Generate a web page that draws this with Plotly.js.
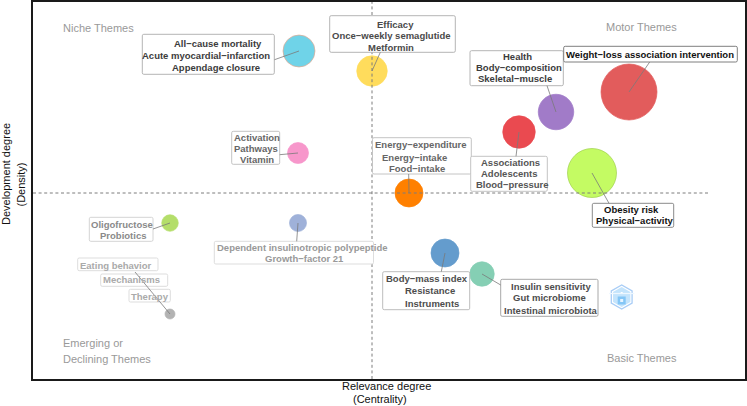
<!DOCTYPE html>
<html><head><meta charset="utf-8">
<script src="https://cdn.plot.ly/plotly-3.0.1.min.js"></script>
<style>html,body{margin:0;padding:0;background:#fff}#c{width:747px;height:406px}</style>
</head><body><div id="c"></div>
<script>
// ---- Theme data (centrality, density, bubble diameter, colour, label lines) ----
const themeNames = ['mortality','efficacy','activation','energy','associations','health','weightLoss','obesity','oligofructose','dependent','eating','bodyMass','insulin'];
const centrality = [-0.73, 0.00, -0.74, 0.37, 1.47, 1.84, 2.57, 2.20, -2.02, -0.74, -2.02, 0.73, 1.10];
const density    = [1.42, 1.22, 0.40, 0.00, 0.61, 0.81, 1.01, 0.20, -0.30, -0.30, -1.21, -0.60, -0.81];
const bubbleSize = [32, 30.5, 21, 28, 32.5, 35.5, 56, 49, 16.5, 17, 10, 28, 24.5];
const bubbleColors = ['#6fd3e8','#ffdc5c','#f797cb','#ff8000','#ea4a50','#a17bc8','#e25c5c','#c4fb63','#b4de6a','#9fb1d9','#b3b3b3','#649ccd','#85cfb4'];
const bubbleLines  = ['#e8a98f','#ffdc5c','#f797cb','#ff8000','#ea4a50','#a17bc8','#e25c5c','#9fd04d','#b4de6a','#9fb1d9','#b3b3b3','#649ccd','#85cfb4'];
const labelLines = [
  ['All−cause mortality','Acute myocardial−infarction','Appendage closure'],
  ['Efficacy','Once−weekly semaglutide','Metformin'],
  ['Activation','Pathways','Vitamin'],
  ['Energy−expenditure','Energy−intake','Food−intake'],
  ['Associations','Adolescents','Blood−pressure'],
  ['Health','Body−composition','Skeletal−muscle'],
  ['Weight−loss association intervention'],
  ['Obesity risk','Physical−activity'],
  ['Oligofructose','Probiotics'],
  ['Dependent insulinotropic polypeptide','Growth−factor 21'],
  ['Eating behavior','Mechanisms','Therapy'],
  ['Body−mass index','Resistance','Instruments'],
  ['Insulin sensitivity','Gut microbiome','Intestinal microbiota']
];
const quadrantLabels = ['Niche Themes','Motor Themes','Emerging or','Declining Themes','Basic Themes'];
const xTitleLines = ['Relevance degree','(Centrality)'];
const yTitleLines = ['Development degree','(Density)'];

// ---- Layout helpers: page pixels to axis units ----
const L=33,R=745,T=2,B=379;
const XR=[-3.39,3.73], YR=[-1.86,1.91];
const dx=p=>XR[0]+(p-L)/(R-L)*(XR[1]-XR[0]);
const dy=p=>YR[1]-(p-T)/(B-T)*(YR[1]-YR[0]);
const px=p=>(p-L)/(R-L);
const py=p=>1-(p-T)/(B-T);

// box [x0,y0,x1,y1], line centres [x,y], connector end [x,y], text colour, border colour
const labelLayout = [
 {box:[142.3,34.3,274.3,74.3],pos:[[218,43.3],[205.7,55.7],[215.7,67]],end:[274.5,59.7],c:'#3c3c3c',b:'#b5b5b5'},
 {box:[329.7,15.7,455.3,52.3],pos:[[395.3,24.7],[391,35.7],[391,47]],end:[380.3,52.3],c:'#4a4a4a',b:'#b5b5b5'},
 {box:[231.7,131.3,279.7,164.3],pos:[[256.7,137.8],[255.7,148.8],[256.7,159.8]],end:[279.7,154.7],c:'#666666',b:'#c4c4c4'},
 {box:[372.5,137.7,471.3,174],pos:[[421.3,144.7],[414,157.3],[417.3,168.7]],end:[408.7,174],c:'#666666',b:'#c4c4c4'},
 {box:[470.7,156.3,547.3,191.3],pos:[[510,162.8],[509.7,173.6],[512,184.4]],end:[516,156.3],c:'#555555',b:'#c4c4c4'},
 {box:[470,50.7,563.3,85.7],pos:[[517,56.3],[518.7,67.7],[515,78.7]],end:[547,85.7],c:'#3c3c3c',b:'#b5b5b5'},
 {box:[563.7,46.3,737.3,62],pos:[[650.3,54.3]],end:[649.7,62],c:'#111111',b:'#7f7f7f'},
 {box:[592.3,203.3,673.7,227.3],pos:[[631.7,209.4],[634.7,220.4]],end:[609,203.3],c:'#111111',b:'#8a8a8a'},
 {box:[89.3,217.3,153,241.3],pos:[[122.3,224.3],[122.7,235.7]],end:[153,229],c:'#8a8a8a',b:'#d4d4d4'},
 {box:[214.3,241.3,373.5,264],pos:[[301.7,247.6],[304,258.6]],end:[296.7,241.3],c:'#999999',b:'#dddddd'},
 {box:[[77.7,258,158,270.7],[100.7,274,167.7,286.3],[129,289.3,170.3,302]],pos:[[115.7,265],[131.7,279.7],[149.7,296.3]],end:[135,272],c:'#aaaaaa',b:'#dddddd'},
 {box:[382.7,271.7,469.7,309.7],pos:[[427.3,278.7],[430,290],[432,303]],end:[441.3,271.7],c:'#4d4d4d',b:'#bdbdbd'},
 {box:[500.7,279.3,598,316.3],pos:[[550.7,286],[549,297.3],[551,310.3]],end:[500.7,285],c:'#4d4d4d',b:'#a8a8a8'}
];

function roundRect(b,r){
  const [x0,y0,x1,y1]=b;
  const P=(x,y)=>dx(x)+','+dy(y);
  return 'M'+P(x0+r,y0)+' L'+P(x1-r,y0)+' Q'+P(x1,y0)+' '+P(x1,y0+r)+' L'+P(x1,y1-r)+' Q'+P(x1,y1)+' '+P(x1-r,y1)+
         ' L'+P(x0+r,y1)+' Q'+P(x0,y1)+' '+P(x0,y1-r)+' L'+P(x0,y0+r)+' Q'+P(x0,y0)+' '+P(x0+r,y0)+' Z';
}

const dashStyle={color:'#7d7d7d',width:1,dash:'3px,2.6px'};
const shapes=[
 {type:'line',xref:'x',yref:'y',x0:XR[0],x1:dx(709),y0:0,y1:0,line:dashStyle},
 {type:'line',xref:'x',yref:'y',x0:0,x1:0,y0:YR[0],y1:YR[1],line:dashStyle}
];
const annotations=[];
labelLayout.forEach(l=>{
  const boxes=Array.isArray(l.box[0])?l.box:[l.box];
  boxes.forEach(b=>shapes.push({type:'path',xref:'x',yref:'y',path:roundRect(b,1.5),fillcolor:'#ffffff',line:{color:l.b,width:1}}));
});
labelLayout.forEach((l,i)=>{
  shapes.push({type:'line',xref:'x',yref:'y',x0:centrality[i],y0:density[i],x1:dx(l.end[0]),y1:dy(l.end[1]),line:{color:'#7a7a7a',width:0.8}});
  labelLines[i].forEach((t,j)=>annotations.push({xref:'x',yref:'y',x:dx(l.pos[j][0]),y:dy(l.pos[j][1]),text:'<b>'+t+'</b>',showarrow:false,
    xanchor:'center',yanchor:'middle',font:{family:'Liberation Sans',size:9.5,color:l.c}}));
});
const qPos=[[61,28,'left'],[641.3,27,'center'],[61,343.3,'left'],[61,359.3,'left'],[642.3,358.3,'center']];
quadrantLabels.forEach((t,i)=>annotations.push({xref:'x',yref:'y',x:dx(qPos[i][0]),y:dy(qPos[i][1]),text:t,showarrow:false,
  xanchor:qPos[i][2],yanchor:'middle',font:{family:'Liberation Sans',size:11,color:'#999999'}}));

// axis titles, each line placed where the reference has it
const titleFont={family:'Liberation Sans',size:11,color:'#111'};
[[386,386.3],[379.5,398.6]].forEach((p,i)=>annotations.push({xref:'paper',yref:'paper',x:px(p[0]),y:py(p[1]),text:xTitleLines[i],
  showarrow:false,xanchor:'center',yanchor:'middle',font:titleFont}));
[[6,174],[21,184.5]].forEach((p,i)=>annotations.push({xref:'paper',yref:'paper',x:px(p[0]),y:py(p[1]),text:yTitleLines[i],
  textangle:-90,showarrow:false,xanchor:'center',yanchor:'middle',font:titleFont}));

const bubbles={type:'scatter',mode:'markers',x:centrality,y:density,text:themeNames,hoverinfo:'text',
  marker:{size:bubbleSize,sizemode:'diameter',color:bubbleColors,line:{color:bubbleLines,width:0.7},opacity:1}};
const logoMark=(x,y,symbol,size,color,line)=>({type:'scatter',mode:'markers',x:[dx(x)],y:[dy(y)],hoverinfo:'skip',
  marker:{symbol:symbol,size:size,color:color,line:line||{width:0}}});
const logo=[
 logoMark(621.7,297,'hexagon',24,'#ffffff',{color:'#a9cdf6',width:1.3}),
 logoMark(621.7,297,'hexagon',20,'#c4e4fc'),
 logoMark(621.7,293,'square',2,'#ffffff'),
 logoMark(621.7,293.5,'line-ew',18,'#ffffff',{color:'#eef7ff',width:1.2}),
 logoMark(621.7,300.5,'square',8,'#84c6f6'),
 logoMark(621.7,300.5,'square',3,'#e6f4ff')
];

const layout={
  width:747,height:406,paper_bgcolor:'#fff',plot_bgcolor:'#fff',showlegend:false,
  margin:{l:L,r:747-R,t:T,b:406-B,pad:0},
  font:{family:'Liberation Sans',color:'#000'},
  xaxis:{range:XR,showgrid:false,zeroline:false,showticklabels:false,ticks:'',showline:true,mirror:true,linecolor:'#1a1a1a',linewidth:2},
  yaxis:{range:YR,showgrid:false,zeroline:false,showticklabels:false,ticks:'',showline:true,mirror:true,linecolor:'#1a1a1a',linewidth:2},
  shapes:shapes,annotations:annotations
};
Plotly.newPlot('c',[bubbles].concat(logo),layout,{displayModeBar:false,responsive:false});
</script></body></html>
